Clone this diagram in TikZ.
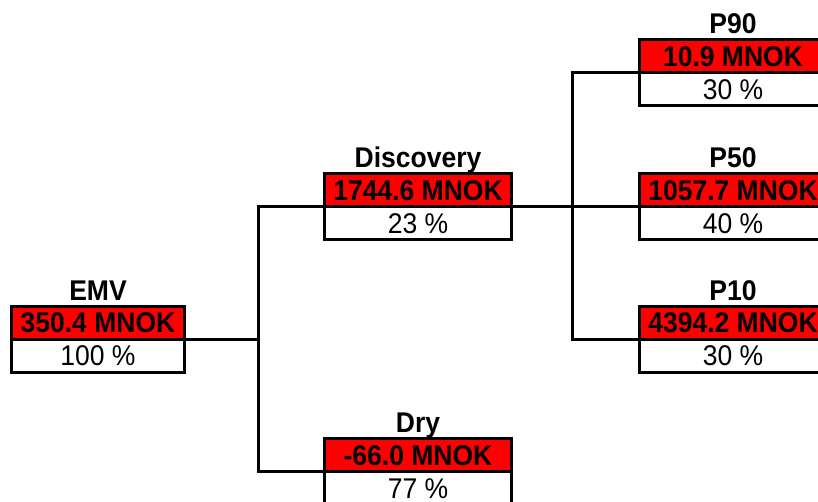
\documentclass[tikz,border=0pt]{standalone}
\usepackage{fontspec}
\setmainfont{Liberation Sans}
\newfontfamily\boxfont[FakeStretch=0.93]{Liberation Sans}
\usetikzlibrary{positioning}
\begin{document}
\begin{tikzpicture}[x=1pt,y=-1pt,
  box/.style={draw=black, line width=3pt, outer sep=0pt, inner sep=0pt,
    minimum height=33pt, text height=20.4pt, text depth=0pt},
  val/.style={box, fill=red, font=\boxfont\fontsize{28.5}{31}\selectfont\bfseries},
  prob/.style={box, fill=white, font=\boxfont\fontsize{28.5}{31}\selectfont},
  lab/.style={anchor=base, inner sep=0pt, font=\boxfont\fontsize{28.5}{31}\selectfont\bfseries},
  conn/.style={line width=3pt}]
\useasboundingbox (0,0) rectangle (818,502);
% nodes
\node[val, minimum width=173pt] (emvv) at (98,322.5) {350.4 MNOK};
\node[prob, minimum width=173pt, below=0pt of emvv] (emvp) {100 \%};
\node[lab] (emvl) at ([yshift=5pt]emvv.north) {EMV};

\node[val, minimum width=187pt] (discv) at (418,190) {1744.6 MNOK};
\node[prob, minimum width=187pt, below=0pt of discv] (discp) {23 \%};
\node[lab] (discl) at ([yshift=6pt]discv.north) {Discovery};

\node[val, minimum width=187pt] (dryv) at (418,455) {-66.0 MNOK};
\node[prob, minimum width=187pt, below=0pt of dryv] (dryp) {77 \%};
\node[lab] (dryl) at ([yshift=6pt]dryv.north) {Dry};

\node[val, minimum width=187pt] (p90v) at (733,56) {10.9 MNOK};
\node[prob, minimum width=187pt, below=0pt of p90v] (p90p) {30 \%};
\node[lab] (p90l) at ([yshift=6pt]p90v.north) {P90};

\node[val, minimum width=187pt] (p50v) at (733,190) {1057.7 MNOK};
\node[prob, minimum width=187pt, below=0pt of p50v] (p50p) {40 \%};
\node[lab] (p50l) at ([yshift=6pt]p50v.north) {P50};

\node[val, minimum width=187pt] (p10v) at (733,322.5) {4394.2 MNOK};
\node[prob, minimum width=187pt, below=0pt of p10v] (p10p) {30 \%};
\node[lab] (p10l) at ([yshift=6pt]p10v.north) {P10};

% junctions
\coordinate (jA) at (258.5,339);
\coordinate (jB) at (572,206.5);
% connectors
\draw[conn] (emvv.south east) -- (jA);
\draw[conn] (discv.south west) -| (jA) |- (dryv.south west);
\draw[conn] (discv.south east) -- (p50v.south west);
\draw[conn] (p90v.south west) -| (jB) |- (p10v.south west);
\end{tikzpicture}
\end{document}
